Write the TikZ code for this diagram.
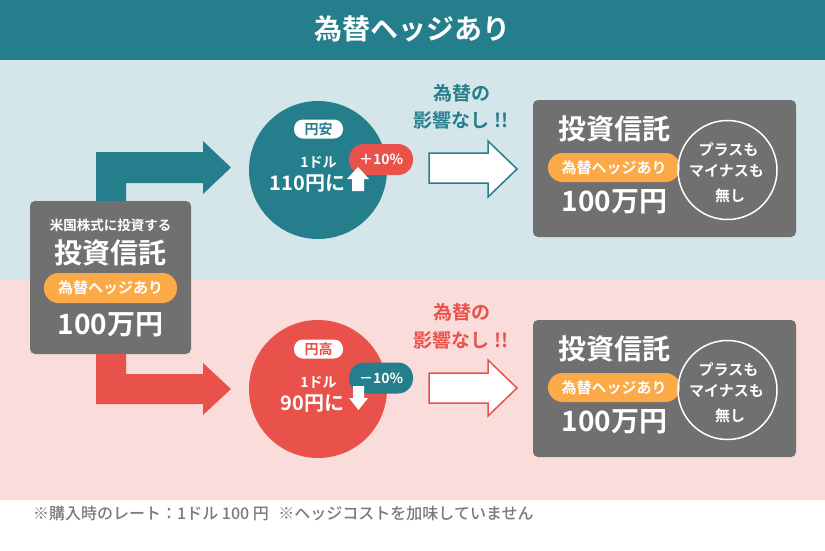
\documentclass[tikz,border=0pt]{standalone}
\usepackage{fontspec}
\setmainfont{Noto Sans CJK JP}[BoldFont={Noto Sans CJK JP Bold}]
\newfontfamily\jpmed{Noto Sans CJK JP Medium}
\definecolor{tealc}{HTML}{257E8C}
\definecolor{lblue}{HTML}{D4E6EA}
\definecolor{pinkc}{HTML}{FADCDB}
\definecolor{redc}{HTML}{E8524A}
\definecolor{grayc}{HTML}{717070}
\definecolor{orangec}{HTML}{FBAA47}
\definecolor{notec}{HTML}{7A7A7A}
\newcommand{\jfs}[1]{\fontsize{#1}{#1}\selectfont}
\tikzset{
  txt/.style={inner sep=0pt, text=white, font=\bfseries\jfs{#1}},
  box/.style={fill=grayc, rounded corners=5pt, inner sep=0pt},
  pill/.style={fill=orangec, rounded corners=14.5pt, inner sep=0pt, text=white, font=\bfseries\jfs{15}},
  tag/.style={rounded corners=15pt, inner sep=0pt, minimum width=64pt, minimum height=31pt, text=white, font=\bfseries\jfs{14}},
  yen/.style={fill=white, rounded corners=9pt, inner sep=0pt, minimum width=49pt, minimum height=19pt, font=\bfseries\jfs{14}},
  outarrow/.style={fill=white, line width=1.5pt, line join=miter},
  note/.style={inner sep=0pt, font=\bfseries\jfs{19}},
}
\begin{document}
\begin{tikzpicture}[x=1pt,y=-1pt]
\useasboundingbox (0,0) rectangle (825,550);
\fill[white] (0,0) rectangle (825,550);
\fill[tealc] (0,0) rectangle (825,60);
\fill[lblue] (0,60) rectangle (825,279);
\fill[pinkc] (0,279) rectangle (825,500);
\node[txt=28] (title) at (412.5,29) {為替ヘッジあり};

% elbow arrows
\fill[tealc] (96,230) -- (96,152) -- (203,152) -- (203,141) -- (231,167.5) -- (203,194) -- (203,183) -- (126,183) -- (126,230) -- cycle;
\fill[redc] (96,320) -- (96,404) -- (203,404) -- (203,415) -- (231,389) -- (203,363) -- (203,374) -- (126,374) -- (126,320) -- cycle;

% source box
\node[box, minimum width=161pt, minimum height=153pt] (src) at (110.5,277.5) {};
\node[txt=13.5] (srcA) at (110.5,225) {米国株式に投資する};
\node[txt=28] (srcB) at (110.5,253) {投資信託};
\node[pill, minimum width=133pt, minimum height=30pt] (srcC) at (110.5,288) {為替ヘッジあり};
\node[txt=28] (srcD) at (110.5,325) {100万円};

% top circle
\node[circle, fill=tealc, minimum size=138pt, inner sep=0pt] (c1) at (318,170) {};
\node[yen, text=tealc] (y1) at (318.5,129) {円安};
\node[txt=14] (d1) at (318.5,162) {1ドル};
\node[txt=20] (v1) at (307.5,184) {110円に};
\node[tag, fill=redc] (t1) at (381,159.5) {＋10\%};
\fill[white] (352,191) -- (352,179) -- (347,179) -- (358,167) -- (369,179) -- (364,179) -- (364,191) -- cycle;

% top note + arrow
\node[note, text=tealc] (n1a) at (462,93) {為替の};
\node[note, text=tealc] (n1b) at (461,120) {影響なし !!};
\draw[outarrow, draw=tealc] (429,153) -- (488,153) -- (488,141) -- (517,169) -- (488,197) -- (488,183) -- (429,183) -- cycle;

% top result box
\node[box, minimum width=263pt, minimum height=137pt] (r1) at (664.5,168.5) {};
\node[pill, minimum width=132pt, minimum height=29pt] (r1p) at (614,167.5) {為替ヘッジあり};
\node[txt=28] (r1a) at (614.5,129) {投資信託};
\node[txt=28] (r1b) at (614.5,202) {100万円};
\node[circle, draw=white, line width=1.5pt, minimum size=99pt, inner sep=0pt] (r1c) at (727.5,170) {};
\node[txt=15] (r1x) at (728.5,150) {プラスも};
\node[txt=15] (r1y) at (726.5,171) {マイナスも};
\node[txt=15] (r1z) at (730,196) {無し};

% bottom circle
\node[circle, fill=redc, minimum size=138pt, inner sep=0pt] (c2) at (318,389) {};
\node[yen, text=redc] (y2) at (318.5,349) {円高};
\node[txt=14] (d2) at (318.5,382) {1ドル};
\node[txt=20] (v2) at (312.5,404) {90円に};
\node[tag, fill=tealc] (t2) at (381,378) {－10\%};
\fill[white] (353,386) -- (353,398) -- (349,398) -- (358.5,410) -- (368,398) -- (364,398) -- (364,386) -- cycle;

% bottom note + arrow
\node[note, text=redc] (n2a) at (462,312) {為替の};
\node[note, text=redc] (n2b) at (461,340) {影響なし !!};
\draw[outarrow, draw=redc] (429,373) -- (488,373) -- (488,360) -- (517,388) -- (488,416) -- (488,403) -- (429,403) -- cycle;

% bottom result box
\node[box, minimum width=263pt, minimum height=137pt] (r2) at (664.5,388.5) {};
\node[pill, minimum width=132pt, minimum height=29pt] (r2p) at (614,387.5) {為替ヘッジあり};
\node[txt=28] (r2a) at (614.5,349) {投資信託};
\node[txt=28] (r2b) at (614.5,422) {100万円};
\node[circle, draw=white, line width=1.5pt, minimum size=99pt, inner sep=0pt] (r2c) at (727.5,390) {};
\node[txt=15] (r2x) at (728.5,370) {プラスも};
\node[txt=15] (r2y) at (726.5,391) {マイナスも};
\node[txt=15] (r2z) at (730,416) {無し};

% footer
\node[anchor=west, inner sep=0pt, text=notec, font=\jpmed\jfs{16}] (foot) at (33,513) {※購入時のレート：1ドル 100 円\hspace{0.6em}※ヘッジコストを加味していません};
\end{tikzpicture}
\end{document}
